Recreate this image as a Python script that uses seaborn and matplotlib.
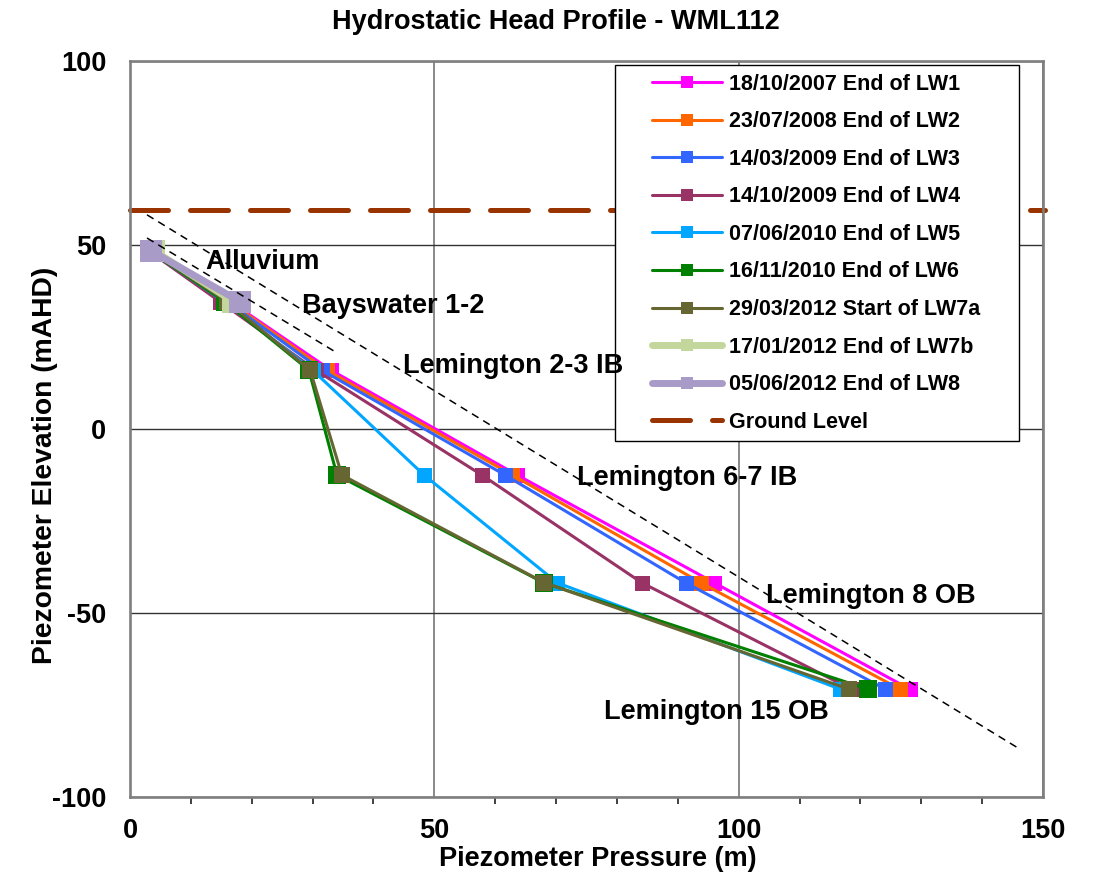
import numpy as np
import pandas as pd
import matplotlib
matplotlib.use("Agg")
import matplotlib.pyplot as plt
import seaborn as sns
from matplotlib.legend_handler import HandlerLine2D
from matplotlib.ticker import MultipleLocator

# ---------------- data ----------------
elevation = [48.5, 34.6, 16.0, -12.5, -41.8, -70.7]
elev_top2 = [48.5, 34.6]

lw1 = [3.2, 16.5, 33.0, 63.6, 96.0, 128.1]
lw2 = [3.2, 16.3, 32.3, 62.8, 93.8, 126.5]
lw3 = [3.2, 16.0, 31.5, 61.6, 91.3, 124.1]
lw4 = [3.0, 14.8, 30.5, 57.8, 84.1, 118.5]
lw5 = [3.2, 15.5, 30.0, 48.3, 70.2, 116.7]
lw6 = [3.1, 15.6, 29.4, 34.0, 68.0, 121.2]
lw7a = [3.2, 16.0, 29.6, 34.8, 68.1, 118.1]
lw7b = [3.9, 17.0]
lw8 = [3.4, 18.1]

series_labels = ["18/10/2007 End of LW1", "23/07/2008 End of LW2", "14/03/2009 End of LW3",
                 "14/10/2009 End of LW4", "07/06/2010 End of LW5", "16/11/2010 End of LW6",
                 "29/03/2012 Start of LW7a", "17/01/2012 End of LW7b", "05/06/2012 End of LW8"]
series_x = [lw1, lw2, lw3, lw4, lw5, lw6, lw7a, lw7b, lw8]
series_y = [elevation] * 7 + [elev_top2, elev_top2]
series_colors = ["#FF00FF", "#FF6600", "#3366FF", "#993366", "#00A6FF", "#008000",
                 "#666633", "#C3D69B", "#A99BC7"]

ground_x = [0, 150.3]
ground_y = [59.5, 59.5]
ground_label = "Ground Level"

hydro_long_x = [2.8, 145.9]
hydro_long_y = [58.2, -86.7]
hydro_short_x = [2.8, 34.0]
hydro_short_y = [51.9, 20.7]

unit_names = ["Alluvium", "Bayswater 1-2", "Lemington 2-3 IB", "Lemington 6-7 IB",
              "Lemington 8 OB", "Lemington 15 OB"]
unit_x = [12.3, 28.3, 44.9, 73.4, 104.5, 77.9]
unit_y = [45.4, 33.4, 17.1, -13.3, -45.4, -76.9]

x_ticks = [0, 50, 100, 150]
y_ticks = [-100, -50, 0, 50, 100]

# ---------------- style ----------------
sns.set_style("white")
plt.rcParams["font.family"] = ["Liberation Sans", "DejaVu Sans"]
plt.rcParams["font.weight"] = "bold"
plt.rcParams["axes.unicode_minus"] = False
plt.rcParams["text.color"] = "black"
plt.rcParams["axes.labelcolor"] = "black"
plt.rcParams["xtick.color"] = "black"
plt.rcParams["ytick.color"] = "black"

fig = plt.figure(figsize=(11.07, 8.73), dpi=100)
ax = fig.add_axes([0.1174, 0.0871, 0.8248, 0.8430])

line_widths = [2.2] * 7 + [5.0, 5.0]
marker_sizes = [10.8, 10.8, 10.8, 10.8, 10.8, 12.8, 11.5, 15.5, 15.5]

for lab, xs, ys, col, lw, ms in zip(series_labels, series_x, series_y, series_colors,
                                     line_widths, marker_sizes):
    df = pd.DataFrame({"p": xs, "e": ys})
    sns.lineplot(data=df, x="p", y="e", sort=False, estimator=None, color=col,
                 linewidth=lw, marker="s", markersize=ms, markeredgewidth=0,
                 label=lab, ax=ax, zorder=3)

gdf = pd.DataFrame({"p": ground_x, "e": ground_y})
sns.lineplot(data=gdf, x="p", y="e", sort=False, estimator=None, color="#993300",
             linewidth=3.6, label=ground_label, ax=ax, zorder=2)
gline = ax.lines[-1]
gline.set_dashes((7.6, 4.4))
gline.set_dash_capstyle("round")
gline.set_clip_on(False)

for hx, hy in [(hydro_long_x, hydro_long_y), (hydro_short_x, hydro_short_y)]:
    hdf = pd.DataFrame({"p": hx, "e": hy})
    sns.lineplot(data=hdf, x="p", y="e", sort=False, estimator=None, color="black",
                 linewidth=1.1, legend=False, ax=ax, zorder=4)
    ax.lines[-1].set_dashes((5.0, 3.6))

for name, tx, ty in zip(unit_names, unit_x, unit_y):
    ax.text(tx, ty, name, fontsize=19.5, fontweight="bold", ha="left", va="center",
            color="black", zorder=12)

# ---------------- axes ----------------
ax.set_xlim(0, 150)
ax.set_ylim(-100, 100)
ax.set_xticks(x_ticks)
ax.set_yticks(y_ticks)
ax.xaxis.set_minor_locator(MultipleLocator(10))
ax.tick_params(axis="both", which="major", direction="out", length=6, width=1.3,
               color="#333333", labelcolor="black", labelsize=19.5, pad=11)
ax.tick_params(axis="x", which="major", pad=9)
ax.tick_params(axis="x", which="minor", direction="out", length=5, width=1.3,
               color="#333333", bottom=True)
for lbl in ax.get_xticklabels() + ax.get_yticklabels():
    lbl.set_fontweight("bold")

ax.set_axisbelow(True)
ax.xaxis.grid(True, color="#808080", linewidth=1.3)
ax.yaxis.grid(True, color="#333333", linewidth=1.0)

for side, sp in ax.spines.items():
    sp.set_visible(True)
    sp.set_color("#7F7F7F")
    sp.set_linewidth(1.9)

ax.set_xlabel("Piezometer Pressure (m)", fontsize=19.5, fontweight="bold", color="black")
ax.set_ylabel("Piezometer Elevation (mAHD)", fontsize=20.3, fontweight="bold", color="black")
ax.xaxis.label.set_va("center")
ax.yaxis.label.set_va("center")
ax.xaxis.set_label_coords(0.5126, -0.0845)
ax.yaxis.set_label_coords(-0.0931, 0.451)

fig.text(0.5023, 0.9748, "Hydrostatic Head Profile - WML112", fontsize=19.5,
         fontweight="bold", ha="center", va="center", color="black")


# ---------------- legend ----------------
class OffsetLineHandler(HandlerLine2D):
    def __init__(self, offset, **kw):
        super().__init__(**kw)
        self.offset = offset

    def get_xdata(self, legend, xdescent, ydescent, width, height, fontsize):
        x0 = -xdescent + self.offset * fontsize
        x1 = -xdescent + width
        return [x0, x1], [0.5 * (x0 + x1)]


def shrink_marker(leg_artist, orig):
    leg_artist.update_from(orig)
    leg_artist.set_markersize(8.6)


handles, labels = ax.get_legend_handles_labels()
handler = OffsetLineHandler(1.32, update_func=shrink_marker)
leg = ax.legend(handles, labels, loc="upper left",
                bbox_to_anchor=(0.5312, 0.485, 0.4425, 0.5096), mode="expand",
                borderaxespad=0, prop={"weight": "bold", "size": 15.5},
                handlelength=4.58, handletextpad=0.33, labelspacing=0.77,
                borderpad=0.4, frameon=True, fancybox=False, framealpha=1,
                edgecolor="black", handler_map={matplotlib.lines.Line2D: handler})
leg.get_frame().set_linewidth(1.0)
leg.set_zorder(10)
for t in leg.get_texts():
    t.set_color("black")

fig.savefig("out.png", dpi=100)
